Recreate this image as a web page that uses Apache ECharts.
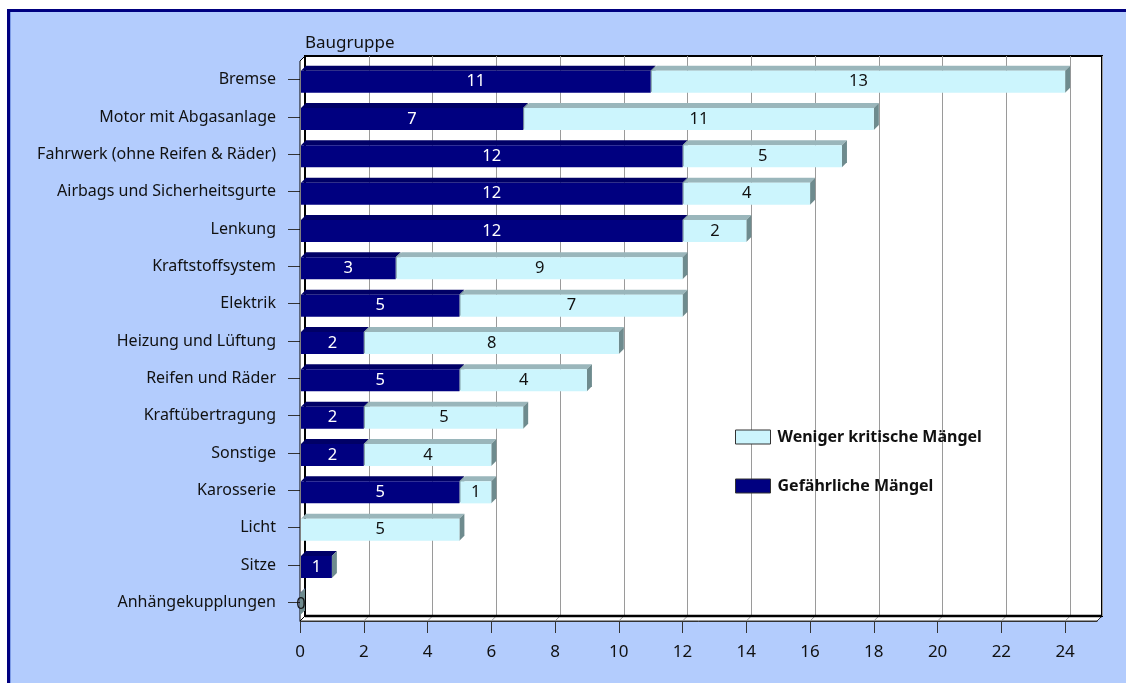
<!DOCTYPE html>
<html>
<head>
<meta charset="utf-8">
<script src="https://cdn.jsdelivr.net/npm/echarts@6/dist/echarts.min.js"></script>
<style>
html,body{margin:0;padding:0;background:#fff;}
#c{width:1126px;height:683px;}
</style>
</head>
<body>
<div id="c"></div>
<script>
// ---- data ----
const categories = ['Bremse','Motor mit Abgasanlage','Fahrwerk (ohne Reifen & Räder)','Airbags und Sicherheitsgurte','Lenkung','Kraftstoffsystem','Elektrik','Heizung und Lüftung','Reifen und Räder','Kraftübertragung','Sonstige','Karosserie','Licht','Sitze','Anhängekupplungen'];
const gefaehrlich = [11, 7, 12, 12, 12, 3, 5, 2, 5, 2, 2, 5, null, 1, 0];
const wenigerKritisch = [13, 11, 5, 4, 2, 9, 7, 8, 4, 5, 4, 1, 5, null, null];
const xTicks = [0, 2, 4, 6, 8, 10, 12, 14, 16, 18, 20, 22, 24];
const seriesNames = ['Gefährliche Mängel', 'Weniger kritische Mängel'];

// ---- layout ----
const FRONT = {left: 300, top: 61, width: 797, height: 560};
const D = 5;
const BACK = {left: FRONT.left + D, top: FRONT.top - D, width: FRONT.width, height: FRONT.height};
const XMAX = 25;

const darkData = [];
gefaehrlich.forEach((v, i) => { if (v != null) darkData.push([0, v, i]); });
const lightData = [];
wenigerKritisch.forEach((v, i) => {
  if (v == null) return;
  const s = gefaehrlich[i] || 0;
  lightData.push([s, s + v, i]);
});

function makeRender(front, top, side, textColor) {
  return function (params, api) {
    const s = api.value(0), e = api.value(1), c = api.value(2);
    if (isNaN(s) || isNaN(e)) return null;
    const p0 = api.coord([s, c]);
    const p1 = api.coord([e, c]);
    const band = api.size([0, 1])[1];
    const h = band * 0.59;
    const y0 = p0[1] - h / 2 + 2, y1 = y0 + h;
    const x0 = p0[0] + 1, x1 = p1[0];
    const val = e - s;
    const children = [
      {type: 'polygon', shape: {points: [[x0, y0], [x0 + D, y0 - D], [x1 + D, y0 - D], [x1, y0]]}, style: {fill: top}},
      {type: 'polygon', shape: {points: [[x1, y0], [x1 + D, y0 - D], [x1 + D, y1 - D], [x1, y1]]}, style: {fill: side}},
      {type: 'rect', shape: {x: x0, y: y0, width: Math.max(0, x1 - x0), height: h}, style: {fill: front}},
      {type: 'text', x: val === 0 ? x0 : (x0 + x1) / 2, y: (y0 + y1) / 2,
        style: {text: String(val), fill: val === 0 ? '#111' : textColor, font: '16.5px "Noto Sans"', align: 'center', verticalAlign: 'middle'}}
    ];
    return {type: 'group', children: children};
  };
}

const floorLines = xTicks.filter(v => v > 0).map(v => {
  const x = FRONT.left + v * FRONT.width / XMAX;
  return {type: 'line', shape: {x1: x, y1: FRONT.top + FRONT.height, x2: x + D, y2: FRONT.top + FRONT.height - D}, style: {stroke: '#999', lineWidth: 1}, z: 2};
});

const chart = echarts.init(document.getElementById('c'), null, {renderer: 'canvas'});
chart.setOption({
  backgroundColor: '#ffffff',
  animation: false,
  title: {text: 'Baugruppe', left: 300, top: 30, textStyle: {fontFamily: 'Noto Sans', fontSize: 17, fontWeight: 'normal', color: '#111'}},
  legend: {
    orient: 'vertical', left: 730, top: 424, itemWidth: 35, itemHeight: 14, itemGap: 33, icon: 'rect',
    textStyle: {fontFamily: 'Noto Sans', fontSize: 16, fontWeight: 'bold', color: '#111', padding: [0, 0, 0, 2]},
    data: [
      {name: 'Weniger kritische Mängel', itemStyle: {color: '#ccf5fd', borderColor: '#333', borderWidth: 1}},
      {name: 'Gefährliche Mängel', itemStyle: {color: '#000080', borderColor: '#333', borderWidth: 1}}
    ]
  },
  graphic: [
    {type: 'rect', shape: {x: 8.5, y: 10.5, width: 1200, height: 800}, style: {fill: '#b3ccfd', stroke: '#000080', lineWidth: 3}, z: -10, silent: true},
    {type: 'line', shape: {x1: 10.5, y1: 12, x2: 10.5, y2: 700}, style: {stroke: '#7d9be6', lineWidth: 1}, z: -9},
    {type: 'polygon', shape: {points: [[FRONT.left, FRONT.top + FRONT.height], [FRONT.left + FRONT.width, FRONT.top + FRONT.height], [BACK.left + BACK.width, BACK.top + BACK.height], [BACK.left, BACK.top + BACK.height]]}, style: {fill: '#fff', stroke: '#333', lineWidth: 1}, z: 1},
    {type: 'polygon', shape: {points: [[FRONT.left, FRONT.top], [BACK.left, BACK.top], [BACK.left, BACK.top + BACK.height], [FRONT.left, FRONT.top + FRONT.height]]}, style: {fill: '#fff', stroke: '#000', lineWidth: 1}, z: 1},
    {type: 'line', shape: {x1: BACK.left, y1: BACK.top + BACK.height, x2: BACK.left + BACK.width, y2: BACK.top + BACK.height}, style: {stroke: '#000', lineWidth: 2.5}, z: 3},
    {type: 'line', shape: {x1: BACK.left, y1: BACK.top, x2: BACK.left, y2: BACK.top + BACK.height}, style: {stroke: '#000', lineWidth: 2}, z: 3}
  ].concat(floorLines),
  grid: [
    {left: BACK.left, top: BACK.top, width: BACK.width, height: BACK.height, show: true, backgroundColor: '#fff', borderColor: '#000', borderWidth: 2},
    {left: FRONT.left, top: FRONT.top, width: FRONT.width, height: FRONT.height, show: false}
  ],
  xAxis: [
    {gridIndex: 0, type: 'value', min: 0, max: XMAX, interval: 2, axisLine: {show: false}, axisTick: {show: false}, axisLabel: {show: false},
      splitLine: {show: true, lineStyle: {color: '#9a9a9a', width: 1}}},
    {gridIndex: 1, type: 'value', min: 0, max: XMAX, interval: 2,
      axisLine: {show: true, onZero: false, lineStyle: {color: '#333', width: 1}},
      axisTick: {show: true, length: 12, lineStyle: {color: '#333'}, customValues: xTicks},
      axisLabel: {show: true, margin: 23, fontFamily: 'Noto Sans', fontSize: 17, color: '#111', customValues: xTicks},
      splitLine: {show: false}}
  ],
  yAxis: [
    {gridIndex: 0, type: 'category', data: categories, inverse: true, show: false},
    {gridIndex: 1, type: 'category', data: categories, inverse: true,
      axisLine: {show: true, lineStyle: {color: '#000', width: 1}},
      axisTick: {show: true, alignWithLabel: true, length: 12, lineStyle: {color: '#333'}},
      axisLabel: {margin: 24, fontFamily: 'Noto Sans', fontSize: 16, color: '#111'},
      splitLine: {show: false}}
  ],
  series: [
    {name: seriesNames[0], type: 'custom', xAxisIndex: 1, yAxisIndex: 1, z: 5, itemStyle: {color: '#000080'},
      renderItem: makeRender('#000080', '#000066', '#6e8b8e', '#ffffff'), data: darkData, encode: {x: [0, 1], y: 2}},
    {name: seriesNames[1], type: 'custom', xAxisIndex: 1, yAxisIndex: 1, z: 5, itemStyle: {color: '#ccf5fd'},
      renderItem: makeRender('#ccf5fd', '#9ab6bb', '#6e8b8e', '#111111'), data: lightData, encode: {x: [0, 1], y: 2}}
  ]
});
</script>
</body>
</html>
